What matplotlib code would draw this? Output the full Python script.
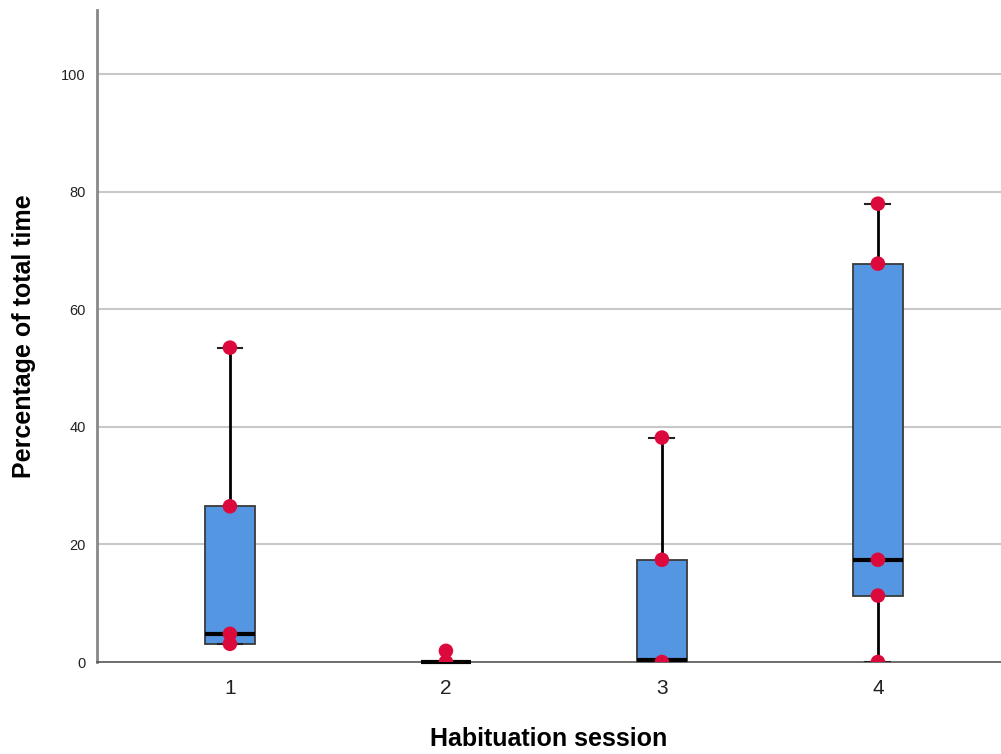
import numpy as np
import matplotlib.pyplot as plt

plt.rcParams['font.family'] = ['Liberation Sans', 'DejaVu Sans']

sessions = [1, 2, 3, 4]
# box summaries per session (percent of total time)
whislo = [3.1, 0.0, 0.0, 0.0]
q1 = [3.1, 0.0, 0.0, 11.3]
med = [4.8, 0.0, 0.3, 17.4]
q3 = [26.5, 0.0, 17.4, 67.8]
whishi = [53.5, 0.0, 38.2, 78.0]

# individual observations
obs = [
    [53.5, 26.5, 4.8, 3.1],
    [1.9, 0.0],
    [38.2, 17.4, 0.0],
    [78.0, 67.8, 17.4, 11.3, 0.0],
]

fig = plt.figure(figsize=(10.01, 7.54), dpi=100)
ax = fig.add_axes([0.097, 0.122, 0.903, 0.865])

stats = []
for i in range(len(sessions)):
    stats.append(dict(whislo=whislo[i], q1=q1[i], med=med[i], q3=q3[i],
                      whishi=whishi[i], fliers=[]))

bp = ax.bxp(stats, positions=sessions, widths=0.23, patch_artist=True,
            showfliers=False,
            boxprops=dict(facecolor='#5596e3', edgecolor='#3a3a3a', linewidth=1.3),
            medianprops=dict(color='black', linewidth=3),
            whiskerprops=dict(color='black', linewidth=2),
            capprops=dict(color='#222222', linewidth=1.5),
            capwidths=0.115, zorder=3)
for m in bp['medians']:
    m.set_clip_on(False)

for i, vals in enumerate(obs):
    ax.scatter([sessions[i]] * len(vals), vals, s=110, color='#dc0a3c',
               edgecolors='none', zorder=5)

ax.set_xlim(0.385, 4.57)
ax.set_ylim(0, 111)
ax.set_yticks([0, 20, 40, 60, 80, 100])
ax.set_xticks(sessions)
ax.set_xticklabels([str(s) for s in sessions])
ax.tick_params(axis='y', length=0, labelsize=10.5, pad=8, colors='#222222')
ax.tick_params(axis='x', length=0, labelsize=15, pad=12, colors='#222222')

for y in [20, 40, 60, 80, 100]:
    ax.axhline(y, color='#c8c8c8', linewidth=1.5, zorder=0)

ax.spines['top'].set_visible(False)
ax.spines['right'].set_visible(False)
ax.spines['left'].set_color('#888888')
ax.spines['left'].set_linewidth(2)
ax.spines['bottom'].set_color('#555555')
ax.spines['bottom'].set_linewidth(1.2)

ax.set_xlabel('Habituation session', fontsize=18, fontweight='bold', labelpad=21)
ax.set_ylabel('Percentage of total time', fontsize=18, fontweight='bold', labelpad=18)

fig.savefig('out.png', dpi=100)
